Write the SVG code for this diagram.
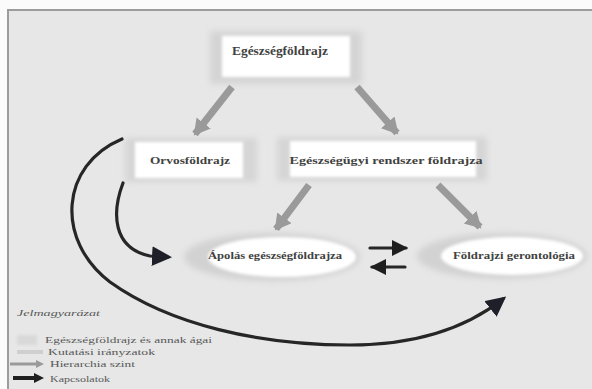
<svg xmlns="http://www.w3.org/2000/svg" width="592" height="389" viewBox="0 0 592 389">
<style>
.t{font-family:"Liberation Serif","DejaVu Serif",serif;font-weight:bold;fill:#3f4240}
.lg{font-family:"Liberation Serif","DejaVu Serif",serif;fill:#585858;font-size:9px}
.rel{fill:none;stroke:#262626;stroke-width:3.2;stroke-linecap:round}
.hier{stroke:#9a9a9a;stroke-width:7}
</style>
<defs>
<filter id="soft" x="-20%" y="-40%" width="140%" height="180%"><feGaussianBlur stdDeviation="3"/></filter>
<filter id="soft2" x="-20%" y="-40%" width="140%" height="180%"><feGaussianBlur stdDeviation="1.5"/></filter>
<marker id="gh" markerUnits="userSpaceOnUse" markerWidth="22" markerHeight="22" refX="14" refY="9" orient="auto"><path d="M0,0 L16,9 L0,18 Z" fill="#9a9a9a"/></marker>
<marker id="bh" markerUnits="userSpaceOnUse" markerWidth="20" markerHeight="20" refX="14" refY="8" orient="auto"><path d="M0,0 L16,8 L0,16 Z" fill="#1f1f1f"/></marker>
<marker id="bh2" markerUnits="userSpaceOnUse" markerWidth="26" markerHeight="26" refX="16" refY="10" orient="auto"><path d="M0,0 L20,10 L0,20 Z" fill="#1f1f2a"/></marker>
</defs>
<rect x="0" y="0" width="592" height="389" fill="#fbfbfb"/>
<rect x="8" y="10" width="600" height="400" fill="#e6e7e6" stroke="#9c9c9c" stroke-width="2"/>

<g id="n-egeszsegfoldrajz">
<rect x="210" y="31" width="152" height="53" fill="#d4d4d4" filter="url(#soft)"/>
<rect x="222" y="36" width="128" height="41" fill="#ffffff" filter="url(#soft2)"/>
<text class="t" x="280" y="55" font-size="12" text-anchor="middle" textLength="96" lengthAdjust="spacingAndGlyphs">Egészségföldrajz</text>
</g>
<g id="n-orvosfoldrajz">
<rect x="125" y="138" width="132" height="44" fill="#d6d6d6" filter="url(#soft)"/>
<rect x="135" y="142" width="108" height="36" fill="#ffffff" filter="url(#soft2)"/>
<text class="t" x="190" y="164" font-size="11" text-anchor="middle" textLength="80" lengthAdjust="spacingAndGlyphs">Orvosföldrajz</text>
</g>
<g id="n-rendszer">
<rect x="277" y="137" width="210" height="44" fill="#d6d6d6" filter="url(#soft)"/>
<rect x="290" y="141" width="186" height="36" fill="#ffffff" filter="url(#soft2)"/>
<text class="t" x="386" y="164" font-size="11" text-anchor="middle" textLength="193" lengthAdjust="spacingAndGlyphs">Egészségügyi rendszer földrajza</text>
</g>
<g id="n-apolas">
<ellipse cx="272" cy="257" rx="88" ry="24" fill="#d2d2d2" filter="url(#soft)"/>
<ellipse cx="282" cy="257" rx="74" ry="20" fill="#ffffff" filter="url(#soft2)"/>
<text class="t" x="275" y="259" font-size="9.5" text-anchor="middle" textLength="134" lengthAdjust="spacingAndGlyphs">Ápolás egészségföldrajza</text>
</g>
<g id="n-gerontologia">
<ellipse cx="502" cy="256" rx="85" ry="23" fill="#d2d2d2" filter="url(#soft)"/>
<ellipse cx="512" cy="256" rx="71" ry="19" fill="#ffffff" filter="url(#soft2)"/>
<text class="t" x="514" y="259" font-size="9.5" text-anchor="middle" textLength="122" lengthAdjust="spacingAndGlyphs">Földrajzi gerontológia</text>
</g>

<g id="connectors">
<line class="hier" x1="232" y1="87" x2="195" y2="134" marker-end="url(#gh)"/>
<line class="hier" x1="357" y1="87" x2="397" y2="133" marker-end="url(#gh)"/>
<line class="hier" x1="309" y1="185" x2="276" y2="229" marker-end="url(#gh)"/>
<line class="hier" x1="438" y1="185" x2="480" y2="227" marker-end="url(#gh)"/>
<line class="rel" x1="370" y1="248" x2="406" y2="248" stroke-width="4" marker-end="url(#bh)"/>
<line class="rel" x1="405" y1="267" x2="372" y2="267" stroke-width="4" marker-end="url(#bh)"/>
<path class="rel" d="M123,183 C112,212 112,248 150,256 L168,257" marker-end="url(#bh2)"/>
<path class="rel" d="M122,139 C60,165 55,240 110,282 C170,325 260,345 350,345 C420,345 470,325 503,299" marker-end="url(#bh2)"/>
</g>

<g id="legend">
<text class="lg" x="17" y="316" font-style="italic" textLength="83" lengthAdjust="spacingAndGlyphs">Jelmagyarázat</text>
<rect x="17" y="335" width="20" height="10" fill="#d9d9d9" filter="url(#soft2)"/>
<text class="lg" x="45" y="343" textLength="167" lengthAdjust="spacingAndGlyphs">Egészségföldrajz és annak ágai</text>
<line x1="17" y1="352" x2="43" y2="352" stroke="#cfcfcf" stroke-width="4"/>
<text class="lg" x="48" y="355" textLength="107" lengthAdjust="spacingAndGlyphs">Kutatási irányzatok</text>
<line x1="10" y1="364" x2="38" y2="364" stroke="#9a9a9a" stroke-width="3"/>
<path d="M36,360 L44,364 L36,368 Z" fill="#9a9a9a"/>
<text class="lg" x="50" y="367" textLength="85" lengthAdjust="spacingAndGlyphs">Hierarchia szint</text>
<line x1="13" y1="378" x2="36" y2="378" stroke="#1f1f1f" stroke-width="4"/>
<path d="M34,373 L44,378 L34,383 Z" fill="#1f1f1f"/>
<text class="lg" x="50" y="382" textLength="60" lengthAdjust="spacingAndGlyphs">Kapcsolatok</text>
</g>
</svg>
